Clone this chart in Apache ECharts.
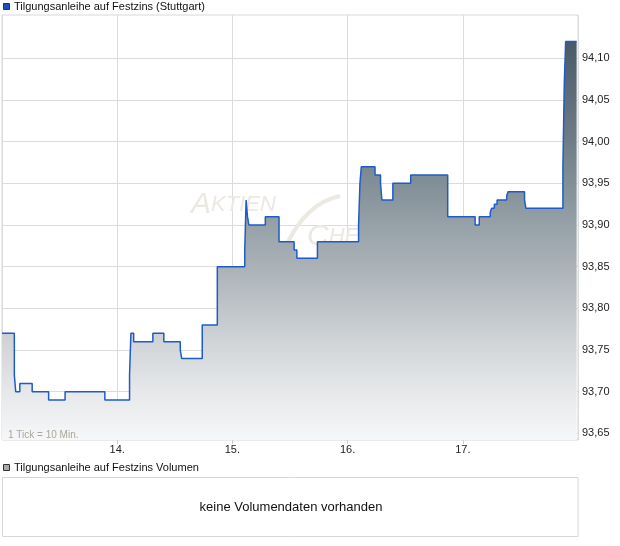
<!DOCTYPE html>
<html>
<head>
<meta charset="utf-8">
<script src="https://cdn.jsdelivr.net/npm/echarts@6/dist/echarts.min.js"></script>
<style>
html,body{margin:0;padding:0;background:#fff;}
#chart{width:620px;height:546px;}
</style>
</head>
<body>
<div id="chart"></div>
<script>
// 10-minute ticks (84 per trading day) and prices
const ticks = [0, 9, 10, 13, 22, 34, 46, 75, 93, 94, 96, 110, 118, 130, 131, 146, 157,
  177, 178, 179, 180, 192, 202, 213, 215, 230, 260, 261, 262, 272, 276, 277, 285, 298,
  325, 345, 348, 356, 357, 359, 361, 368, 369, 381, 382, 409, 410, 411, 419];
const prices = [93.77, 93.72, 93.70, 93.71, 93.70, 93.69, 93.70, 93.69, 93.72, 93.77, 93.76, 93.77, 93.76, 93.75, 93.74, 93.78, 93.85,
  93.87, 93.93, 93.91, 93.90, 93.91, 93.88, 93.87, 93.86, 93.88, 93.90, 93.95, 93.97, 93.96, 93.95, 93.93, 93.95, 93.96,
  93.91, 93.90, 93.91, 93.915, 93.92, 93.925, 93.93, 93.935, 93.94, 93.93, 93.92, 93.97, 94.07, 94.12, 94.12];
const dayLabels = ['13.', '14.', '15.', '16.', '17.', '18.'];
const ticksPerDay = 84;
const seriesName = 'Tilgungsanleihe auf Festzins (Stuttgart)';
const volumeName = 'Tilgungsanleihe auf Festzins Volumen';
const noVolumeText = 'keine Volumendaten vorhanden';
const tickNote = '1 Tick = 10 Min.';

const data = ticks.map((t, i) => [t, prices[i]]);
const FONT = '"Liberation Sans", Arial, sans-serif';

const chart = echarts.init(document.getElementById('chart'), null, {renderer: 'canvas'});
chart.setOption({
  animation: false,
  backgroundColor: '#fff',
  grid: [
    {left: 2, right: 42, top: 15, bottom: 106, show: true, borderColor: '#d8d8d8', borderWidth: 1, backgroundColor: 'transparent'},
    {left: 2, right: 42, top: 58.3, bottom: 112.6, show: false}
  ],
  xAxis: [
    {
      type: 'value', gridIndex: 0, min: 0, max: ticksPerDay * 5, interval: ticksPerDay,
      axisLine: {show: false},
      axisTick: {show: true, length: 4, lineStyle: {color: '#ccc'}},
      splitLine: {show: true, lineStyle: {color: '#dcdcdc', width: 1}},
      axisLabel: {
        fontFamily: FONT, fontSize: 11, color: '#222', margin: 4,
        showMinLabel: false, showMaxLabel: false,
        formatter: v => { const d = Math.round(v / ticksPerDay); return (d >= 1 && d <= 4) ? dayLabels[d] : ''; }
      }
    },
    {type: 'value', gridIndex: 1, min: 0, max: 1, show: false}
  ],
  yAxis: [
    {type: 'value', gridIndex: 0, min: 93.6421, max: 94.1519, show: false, splitLine: {show: false}},
    {
      type: 'value', gridIndex: 1, position: 'right', min: 93.65, max: 94.10, interval: 0.05,
      axisLine: {show: false}, axisTick: {show: false},
      splitLine: {show: true, lineStyle: {color: '#dcdcdc', width: 1}},
      axisLabel: {fontFamily: FONT, fontSize: 11, color: '#222', margin: 4,
        formatter: v => v.toFixed(2).replace('.', ',')}
    }
  ],
  series: [{
    type: 'line', xAxisIndex: 0, yAxisIndex: 0, step: 'end', symbol: 'none',
    data: data, z: 3,
    lineStyle: {color: '#1f5bc8', width: 1.5},
    areaStyle: {
      opacity: 1,
      color: {type: 'linear', x: 0, y: 0, x2: 0, y2: 1, colorStops: [
        {offset: 0, color: '#4a5a67'},
        {offset: 0.25, color: '#6e7d87'},
        {offset: 0.46, color: '#96a1a8'},
        {offset: 0.57, color: '#abb3b8'},
        {offset: 0.77, color: '#d3d7da'},
        {offset: 0.88, color: '#e6e8ea'},
        {offset: 1, color: '#f6f7f8'}
      ]}
    }
  }],
  graphic: [
    // watermark (behind the area)
    {type: 'text', z: 1, left: 191, top: 190, style: {
      text: '{a|A}{b|KTIEN}', fill: '#ece8e2',
      rich: {a: {fontSize: 30, fontStyle: 'italic', fontFamily: FONT, fill: '#ece8e2'},
             b: {fontSize: 22, fontStyle: 'italic', fontFamily: FONT, fill: '#ece8e2'}}
    }},
    {type: 'text', z: 1, left: 307, top: 222, style: {
      text: '{a|C}{b|HECK}', fill: '#ece8e2',
      rich: {a: {fontSize: 30, fontStyle: 'italic', fontFamily: FONT, fill: '#ece8e2'},
             b: {fontSize: 22, fontStyle: 'italic', fontFamily: FONT, fill: '#ece8e2'}}
    }},
    {type: 'bezierCurve', z: 1, shape: {x1: 285, y1: 248, x2: 340, y2: 196, cpx1: 300, cpy1: 215, cpx2: 320, cpy2: 200},
      style: {stroke: '#ece8e2', lineWidth: 4, fill: null}},
    // top legend
    {type: 'rect', z: 10, shape: {x: 3.5, y: 3.5, width: 6, height: 6}, style: {fill: '#1f4fae', stroke: '#333', lineWidth: 1}},
    {type: 'text', z: 10, left: 14, top: 1, style: {text: seriesName, font: '11px ' + FONT, fill: '#111'}},
    // tick note
    {type: 'text', z: 10, left: 8, top: 430, style: {text: tickNote, font: '10px ' + FONT, fill: '#aca69c'}},
    // volume panel
    {type: 'rect', z: 10, shape: {x: 3.5, y: 464.5, width: 6, height: 6}, style: {fill: '#aaa', stroke: '#333', lineWidth: 1}},
    {type: 'text', z: 10, left: 14, top: 462, style: {text: volumeName, font: '11px ' + FONT, fill: '#111'}},
    {type: 'rect', z: 10, shape: {x: 2.5, y: 477.5, width: 575.5, height: 59}, style: {fill: 'transparent', stroke: '#d8d8d8', lineWidth: 1}},
    {type: 'text', z: 10, x: 291, y: 507, style: {text: noVolumeText, font: '13px ' + FONT, fill: '#111', align: 'center', verticalAlign: 'middle'}}
  ]
});
</script>
</body>
</html>
